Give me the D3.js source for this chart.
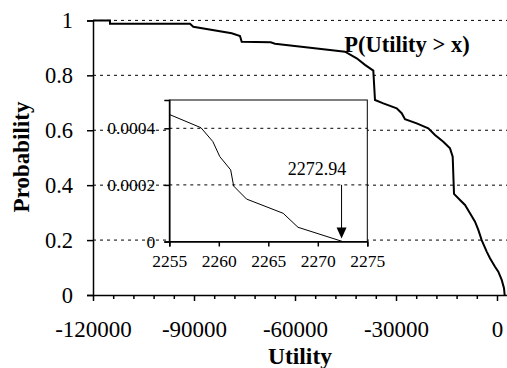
<!DOCTYPE html>
<html lang="en">
<head>
<meta charset="utf-8">
<title>P(Utility > x)</title>
<script src="https://d3js.org/d3.v7.min.js"></script>
<style>
    body { margin: 0; background: white; }
    svg { display: block; }
    .grid line { stroke: #000; stroke-width: 1; stroke-dasharray: 3,4; }
    .axis path, .axis line { stroke: #000; stroke-width: 1.5; }
    .axis text { fill: #000; }
</style>
</head>
<body>
<script>
// main curve: utility value vs exceedance probability
let utility = [-120000, -114950, -114950, -91190, -90210, -78800, -76340, -75830, -67220, -65940,
    -49610, -45150, -41670, -39210, -36740, -36240, -33770, -29790, -28310, -27330,
    -23850, -20400, -18420, -15950, -13960, -13160, -12770, -10990, -9500, -8020,
    -6530, -5550, -4550, -3060, -2080, -590, 390, 1400, 2080, 2273];
let prob = [1, 1, 0.988, 0.988, 0.977, 0.953, 0.943, 0.922, 0.920, 0.915,
    0.892, 0.886, 0.862, 0.838, 0.817, 0.710, 0.698, 0.680, 0.662, 0.640,
    0.625, 0.607, 0.583, 0.558, 0.534, 0.504, 0.368, 0.346, 0.328, 0.298,
    0.267, 0.237, 0.200, 0.158, 0.134, 0.103, 0.085, 0.055, 0.025, 0];

// zoomed tail (inset)
let insetUtility = [2255, 2258.2, 2259.4, 2260.1, 2261.2, 2261.5, 2262.8, 2266.5, 2268.0, 2272.5];
let insetProb = [0.000449, 0.000402, 0.000353, 0.0003, 0.000253, 0.000196, 0.00015, 0.0000997, 0.0000502, 0];

let xTicks = d3.range(-120000, 1, 6000);
let yTicks = [0, 0.2, 0.4, 0.6, 0.8, 1];
let insetXTicks = [2255, 2260, 2265, 2270, 2275];
let insetYTicks = [0, 0.0002, 0.0004];
let markValue = 2272.4;
let markLabel = "2272.94";

let w = 507, h = 368;
let serif = "'Liberation Serif', 'Times New Roman', serif";

let svg = d3.select("body").append("svg")
    .attr("width", w)
    .attr("height", h)
    .style("background-color", "white");

let x = d3.scaleLinear().domain([-120000, 3000]).range([93, 507.1]);
let y = d3.scaleLinear().domain([0, 1]).range([295, 20.4]);

// gridlines
svg.append("g").attr("class", "grid")
    .selectAll("line")
    .data(yTicks.filter(d => d > 0))
    .enter().append("line")
    .attr("x1", x(-120000)).attr("x2", w)
    .attr("y1", d => y(d)).attr("y2", d => y(d));

// axes
let xAxis = svg.append("g").attr("class", "axis")
    .attr("transform", "translate(0," + y(0) + ")")
    .call(d3.axisBottom(x).tickValues(xTicks).tickSizeOuter(0)
        .tickFormat(d => d % 30000 === 0 ? String(d) : ""));
xAxis.selectAll(".tick line").attr("y2", d => d % 30000 === 0 ? 6 : 4);
xAxis.selectAll("text").attr("y", 41.5).attr("dy", 0).style("font-size", "23px");

let yAxis = svg.append("g").attr("class", "axis")
    .attr("transform", "translate(" + x(-120000) + ",0)")
    .call(d3.axisLeft(y).tickValues(yTicks).tickSizeOuter(0).tickSize(6).tickPadding(14)
        .tickFormat(d3.format("")));
yAxis.selectAll("text").style("font-size", "22.5px");

// main line
let pts = utility.map((u, i) => [u, prob[i]]);
svg.append("path")
    .datum(pts)
    .attr("fill", "none")
    .attr("stroke", "#000")
    .attr("stroke-width", 2)
    .attr("d", d3.line().x(d => x(d[0])).y(d => y(d[1])));

// titles
svg.append("text")
    .attr("x", 407).attr("y", 52)
    .attr("text-anchor", "middle")
    .style("font-size", "22.5px").style("font-weight", "bold")
    .text("P(Utility > x)");

svg.append("text")
    .attr("x", 300).attr("y", 364)
    .attr("text-anchor", "middle")
    .style("font-size", "23.5px").style("font-weight", "bold")
    .text("Utility");

svg.append("text")
    .attr("transform", "translate(29,157) rotate(-90)")
    .attr("text-anchor", "middle")
    .style("font-size", "23px").style("font-weight", "bold")
    .text("Probability");

// inset
let ix = d3.scaleLinear().domain([2255, 2275]).range([169.3, 367.3]);
let iy = d3.scaleLinear().domain([0, 0.0005]).range([241.5, 100]);

let inset = svg.append("g");
inset.append("rect")
    .attr("x", ix(2255)).attr("y", iy(0.0005))
    .attr("width", ix(2275) - ix(2255)).attr("height", iy(0) - iy(0.0005))
    .attr("fill", "white").attr("stroke", "#000").attr("stroke-width", 1);

inset.append("g").attr("class", "grid")
    .selectAll("line")
    .data(insetYTicks.filter(d => d > 0))
    .enter().append("line")
    .attr("x1", ix(2255)).attr("x2", ix(2275))
    .attr("y1", d => iy(d)).attr("y2", d => iy(d));

let ixAxis = inset.append("g").attr("class", "axis")
    .attr("transform", "translate(0," + iy(0) + ")")
    .call(d3.axisBottom(ix).tickValues(insetXTicks).tickSizeOuter(0).tickSize(5).tickPadding(8)
        .tickFormat(d3.format("")));
ixAxis.selectAll("text").style("font-size", "17.5px");

let iyAxis = inset.append("g").attr("class", "axis")
    .attr("transform", "translate(" + ix(2255) + ",0)")
    .call(d3.axisLeft(iy).tickValues(insetYTicks).tickSizeOuter(0).tickSize(5).tickPadding(9)
        .tickFormat(d => d === 0 ? "0" : d3.format(".4f")(d)));
iyAxis.selectAll("text").style("font-size", "17.5px");

let ipts = insetUtility.map((u, i) => [u, insetProb[i]]);
inset.append("path")
    .datum(ipts)
    .attr("fill", "none")
    .attr("stroke", "#000")
    .attr("stroke-width", 1)
    .attr("d", d3.line().x(d => ix(d[0])).y(d => iy(d[1])));

// arrow to the end point
let ax = ix(markValue);
inset.append("line")
    .attr("x1", ax).attr("x2", ax)
    .attr("y1", iy(0.0002)).attr("y2", iy(0) - 12)
    .attr("stroke", "#000").attr("stroke-width", 1);
inset.append("path")
    .attr("d", "M" + (ax - 5) + "," + (iy(0) - 14) + "L" + (ax + 5) + "," + (iy(0) - 14) + "L" + ax + "," + (iy(0) - 3) + "Z")
    .attr("fill", "#000");
inset.append("text")
    .attr("x", 317).attr("y", 175)
    .attr("text-anchor", "middle")
    .style("font-size", "18px")
    .text(markLabel);

// every label in the serif face
svg.selectAll("g").attr("font-family", null);
svg.selectAll("text").style("font-family", serif).attr("fill", "#000");
</script>
</body>
</html>
